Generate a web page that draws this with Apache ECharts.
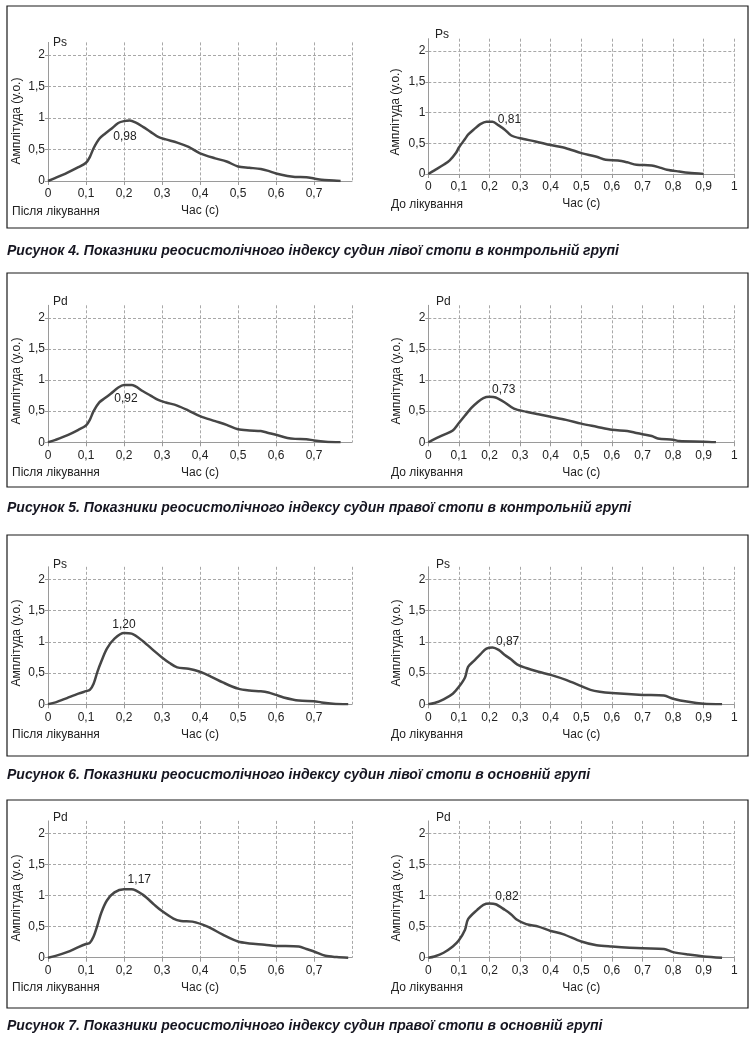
<!DOCTYPE html>
<html><head><meta charset="utf-8">
<script src="https://cdn.jsdelivr.net/npm/echarts@6/dist/echarts.min.js"></script>
<style>html,body{margin:0;padding:0;background:#fff}#c{width:752px;height:1041px}</style>
</head><body><div id="c"></div>
<script>
// ---- data: [time (s), amplitude (y.o.)] ----
const fig4After = [[0,0],[0.02,0.05],[0.05,0.13],[0.08,0.22],[0.1,0.29],[0.11,0.38],[0.12,0.52],[0.135,0.67],[0.15,0.75],[0.165,0.82],[0.185,0.92],[0.2,0.95],[0.215,0.96],[0.23,0.93],[0.25,0.86],[0.27,0.78],[0.29,0.70],[0.31,0.66],[0.34,0.61],[0.37,0.54],[0.4,0.44],[0.44,0.36],[0.47,0.31],[0.5,0.23],[0.53,0.21],[0.56,0.19],[0.58,0.16],[0.6,0.12],[0.63,0.08],[0.65,0.065],[0.68,0.06],[0.7,0.04],[0.72,0.02],[0.74,0.01],[0.77,0]];
const fig4Before = [[0,0],[0.02,0.06],[0.05,0.15],[0.07,0.22],[0.09,0.34],[0.1,0.43],[0.12,0.57],[0.13,0.64],[0.15,0.73],[0.17,0.81],[0.19,0.85],[0.21,0.85],[0.23,0.79],[0.25,0.72],[0.27,0.63],[0.3,0.58],[0.35,0.53],[0.4,0.47],[0.45,0.42],[0.5,0.34],[0.55,0.28],[0.58,0.23],[0.62,0.22],[0.65,0.19],[0.68,0.15],[0.73,0.14],[0.76,0.10],[0.78,0.07],[0.82,0.04],[0.85,0.02],[0.9,0]];
const fig5After = [[0,0],[0.02,0.04],[0.05,0.11],[0.08,0.20],[0.1,0.27],[0.11,0.36],[0.12,0.50],[0.135,0.64],[0.15,0.71],[0.165,0.78],[0.185,0.88],[0.2,0.92],[0.22,0.92],[0.25,0.82],[0.27,0.75],[0.29,0.68],[0.31,0.64],[0.34,0.59],[0.37,0.51],[0.4,0.42],[0.44,0.34],[0.47,0.28],[0.5,0.21],[0.53,0.19],[0.56,0.18],[0.58,0.15],[0.6,0.12],[0.63,0.07],[0.65,0.055],[0.68,0.05],[0.7,0.03],[0.73,0.01],[0.77,0]];
const fig5Before = [[0,0],[0.02,0.05],[0.05,0.12],[0.08,0.19],[0.1,0.31],[0.12,0.43],[0.14,0.55],[0.16,0.64],[0.18,0.71],[0.2,0.73],[0.22,0.72],[0.25,0.64],[0.28,0.54],[0.32,0.49],[0.36,0.45],[0.4,0.41],[0.45,0.36],[0.5,0.30],[0.55,0.25],[0.6,0.20],[0.65,0.18],[0.68,0.15],[0.7,0.13],[0.73,0.10],[0.75,0.06],[0.8,0.04],[0.82,0.02],[0.9,0.01],[0.94,0]];
const fig6After = [[0,0],[0.02,0.03],[0.05,0.10],[0.08,0.17],[0.1,0.21],[0.11,0.23],[0.12,0.33],[0.13,0.52],[0.14,0.68],[0.155,0.89],[0.175,1.05],[0.2,1.14],[0.22,1.13],[0.25,1.01],[0.28,0.85],[0.3,0.75],[0.32,0.66],[0.34,0.59],[0.37,0.57],[0.4,0.52],[0.43,0.44],[0.46,0.35],[0.5,0.25],[0.53,0.22],[0.56,0.21],[0.58,0.19],[0.6,0.15],[0.62,0.11],[0.66,0.06],[0.7,0.05],[0.72,0.03],[0.75,0.01],[0.79,0]];
const fig6Before = [[0,0],[0.02,0.02],[0.05,0.08],[0.08,0.17],[0.1,0.28],[0.12,0.43],[0.13,0.60],[0.15,0.70],[0.17,0.80],[0.19,0.89],[0.21,0.91],[0.23,0.87],[0.25,0.79],[0.27,0.72],[0.29,0.64],[0.32,0.58],[0.36,0.52],[0.4,0.47],[0.45,0.39],[0.5,0.29],[0.53,0.23],[0.56,0.20],[0.6,0.18],[0.7,0.15],[0.77,0.14],[0.8,0.09],[0.85,0.04],[0.9,0.01],[0.96,0]];
const fig7After = [[0,0],[0.02,0.03],[0.05,0.09],[0.08,0.17],[0.1,0.22],[0.11,0.24],[0.12,0.34],[0.13,0.52],[0.14,0.72],[0.155,0.92],[0.175,1.05],[0.2,1.10],[0.22,1.10],[0.25,1.01],[0.28,0.85],[0.3,0.75],[0.33,0.63],[0.35,0.59],[0.38,0.58],[0.42,0.50],[0.46,0.37],[0.5,0.26],[0.53,0.23],[0.57,0.21],[0.6,0.19],[0.66,0.18],[0.68,0.14],[0.7,0.10],[0.73,0.03],[0.76,0.01],[0.79,0]];
const fig7Before = [[0,0],[0.02,0.02],[0.05,0.08],[0.08,0.18],[0.1,0.28],[0.12,0.45],[0.13,0.62],[0.16,0.77],[0.18,0.85],[0.2,0.87],[0.22,0.86],[0.25,0.77],[0.27,0.70],[0.29,0.61],[0.32,0.54],[0.36,0.50],[0.4,0.43],[0.44,0.38],[0.5,0.26],[0.55,0.20],[0.6,0.18],[0.7,0.15],[0.77,0.14],[0.8,0.09],[0.85,0.05],[0.9,0.02],[0.96,0]];

const peakLabels = ['0,98','0,81','0,92','0,73','1,20','0,87','1,17','0,82'];
const indexNames = ['Ps','Ps','Pd','Pd','Ps','Ps','Pd','Pd'];
const phaseNames = ['Після лікування','До лікування'];
const xAxisName = 'Час (с)';
const yAxisName = 'Амплітуда (у.о.)';
const captions = [
  'Рисунок 4. Показники реосистолічного індексу судин лівої стопи в контрольній групі',
  'Рисунок 5. Показники реосистолічного індексу судин правої стопи в контрольній групі',
  'Рисунок 6. Показники реосистолічного індексу судин лівої стопи в основній групі',
  'Рисунок 7. Показники реосистолічного індексу судин правої стопи в основній групі'
];
const xMaxAfter = 0.8, xMaxBefore = 1, xStep = 0.1;
const yMax = 2.2, yStep = 0.5;

const FF = '"Liberation Sans", Arial, sans-serif';
const FS = 12;
const TXT = '#222';

// ---- layout ----
const L = {left:48, width:304}, R = {left:428.3, width:306};
const panels = [
  {data:fig4After,  g:{...L, top:42.4, height:138.6}, xMax:xMaxAfter,  phase:0, off:[-4.7,16.2], yt:[17,121], nm:[53,43],  ph:[12,212]},
  {data:fig4Before, g:{...R, top:38.7, height:135.3}, xMax:xMaxBefore, phase:1, off:[23,-2.4],   yt:[396,112], nm:[435,35], ph:[391,205]},
  {data:fig5After,  g:{...L, top:305.3, height:137},  xMax:xMaxAfter,  phase:0, off:[2,13.3],    yt:[17,381], nm:[53,302], ph:[12,473]},
  {data:fig5Before, g:{...R, top:305.3, height:137},  xMax:xMaxBefore, phase:1, off:[14.2,-7.5], yt:[397,381], nm:[436,302], ph:[391,473]},
  {data:fig6After,  g:{...L, top:566.8, height:137.5},xMax:xMaxAfter,  phase:0, off:[0,-8],      yt:[17,643], nm:[53,565], ph:[12,735]},
  {data:fig6Before, g:{...R, top:566.8, height:137.5},xMax:xMaxBefore, phase:1, off:[15,-5.7],   yt:[397,643], nm:[436,565], ph:[391,735]},
  {data:fig7After,  g:{...L, top:820.9, height:136.8},xMax:xMaxAfter,  phase:0, off:[15.3,-10],  yt:[17,898], nm:[53,818], ph:[12,988]},
  {data:fig7Before, g:{...R, top:820.9, height:136.8},xMax:xMaxBefore, phase:1, off:[17.5,-7],   yt:[397,898], nm:[436,818], ph:[391,988]}
];
const boxes = [[6,222],[273,214],[535,221],[800,208]];
const captionY = [251,508,775,1026];

const fmt = v => (Math.round(v*10)/10).toString().replace('.', ',');
const gridLine = {show:true, lineStyle:{color:'#a8a8a8', type:[3,2], width:1}};

const grid=[], xAxis=[], yAxis=[], series=[], graphic=[];
panels.forEach((p,i)=>{
  grid.push(Object.assign({containLabel:false}, p.g));
  xAxis.push({type:'value', gridIndex:i, min:0, max:p.xMax, interval:xStep,
    axisLine:{show:true, onZero:false, lineStyle:{color:'#9a9a9a', width:1}},
    axisTick:{show:true, length:4, lineStyle:{color:'#9a9a9a'}},
    axisLabel:{margin:7, color:TXT, fontSize:FS, fontFamily:FF, formatter:fmt, showMaxLabel:p.xMax===1},
    splitLine:Object.assign({showMinLine:false}, gridLine),
    name:xAxisName, nameLocation:'middle', nameGap:24,
    nameTextStyle:{color:TXT, fontSize:FS, fontFamily:FF}});
  yAxis.push({type:'value', gridIndex:i, min:0, max:yMax, interval:yStep,
    axisLine:{show:true, lineStyle:{color:'#9a9a9a', width:1}},
    axisTick:{show:true, length:3, lineStyle:{color:'#9a9a9a'}},
    axisLabel:{margin:3, color:TXT, fontSize:FS, fontFamily:FF, formatter:fmt, showMaxLabel:false},
    splitLine:Object.assign({showMinLine:false, showMaxLine:false}, gridLine)});
  series.push({type:'line', xAxisIndex:i, yAxisIndex:i, data:p.data, smooth:0.3, showSymbol:false,
    lineStyle:{color:'#464646', width:2.5}, silent:true, z:3});
  let pk = 0; p.data.forEach((d,k)=>{ if(d[1] > p.data[pk][1]) pk = k; });
  series.push({type:'scatter', xAxisIndex:i, yAxisIndex:i, data:[p.data[pk]], symbolSize:0.01,
    itemStyle:{color:TXT, opacity:1}, silent:true, z:4,
    label:{show:true, position:'inside', offset:p.off, formatter:peakLabels[i],
      color:TXT, opacity:1, textBorderWidth:0, fontSize:FS, fontFamily:FF}});
  graphic.push({type:'text', x:p.yt[0], y:p.yt[1], rotation:Math.PI/2,
    style:{text:yAxisName, x:0, y:0, align:'center', verticalAlign:'middle', textAlign:'center', textVerticalAlign:'middle',
      fill:TXT, fontSize:FS, fontFamily:FF}});
  graphic.push({type:'text', x:p.nm[0], y:p.nm[1],
    style:{text:indexNames[i], x:0, y:0, align:'left', verticalAlign:'middle', textAlign:'left', textVerticalAlign:'middle',
      fill:TXT, fontSize:FS, fontFamily:FF}});
  graphic.push({type:'text', x:p.ph[0], y:p.ph[1],
    style:{text:phaseNames[p.phase], x:0, y:0, align:'left', verticalAlign:'middle', textAlign:'left', textVerticalAlign:'middle',
      fill:TXT, fontSize:FS, fontFamily:FF}});
});
boxes.forEach((b,i)=>{
  graphic.push({type:'rect', shape:{x:7, y:b[0], width:741, height:b[1]},
    style:{fill:'none', stroke:'#1a1a1a', lineWidth:1.2}});
  graphic.push({type:'text', x:7, y:captionY[i],
    style:{text:captions[i], x:0, y:0, align:'left', verticalAlign:'middle', textAlign:'left', textVerticalAlign:'middle',
      fill:'#151520', fontSize:14, fontWeight:'bold', fontStyle:'italic', fontFamily:FF}});
});

const chart = echarts.init(document.getElementById('c'), null, {renderer:'canvas'});
chart.setOption({animation:false, backgroundColor:'#fff', grid, xAxis, yAxis, series, graphic});
</script></body></html>
